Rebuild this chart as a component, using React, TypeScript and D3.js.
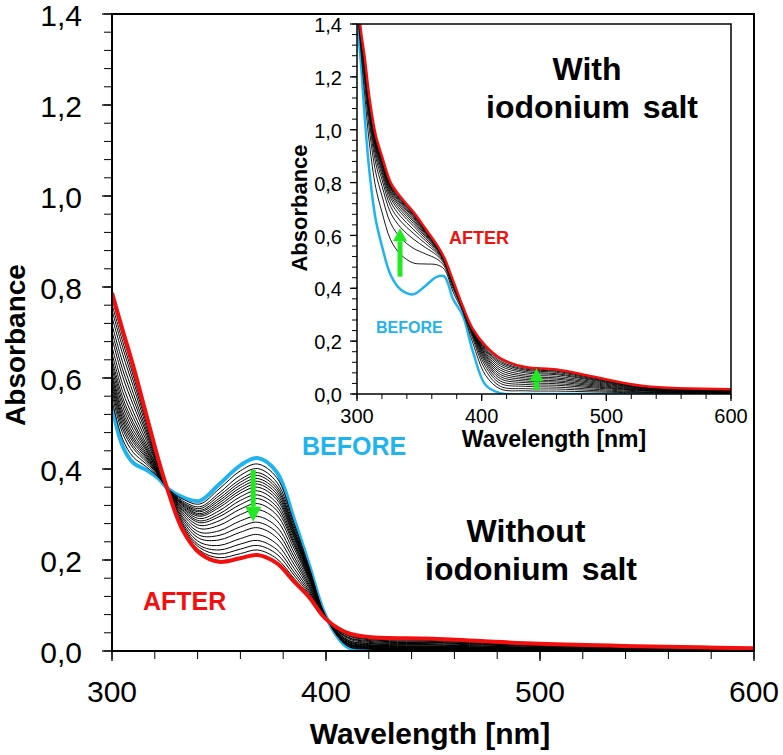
import React from 'react';
import * as d3 from 'd3';

// Main panel (without iodonium salt): wavelengths [nm] and absorbance curves
const mainWl = [300, 305, 310, 316, 322, 326, 333, 341, 350, 360, 368, 377, 385, 392, 400, 410, 420, 450, 500, 600];
const mainBefore = [0.536, 0.45, 0.413, 0.398, 0.378, 0.357, 0.338, 0.33, 0.366, 0.408, 0.424, 0.393, 0.29, 0.19, 0.075, 0.009, 0.002, 0, 0, 0];
const mainAfter = [0.787, 0.705, 0.625, 0.52, 0.415, 0.354, 0.266, 0.215, 0.196, 0.204, 0.211, 0.193, 0.153, 0.119, 0.07, 0.04, 0.031, 0.027, 0.016, 0.006];
const mainSteps = [
  [0.551, 0.465, 0.426, 0.405, 0.38, 0.357, 0.334, 0.323, 0.356, 0.396, 0.411, 0.381, 0.282, 0.186, 0.075, 0.011, 0.004, 0.002, 0.001, 0],
  [0.564, 0.478, 0.436, 0.411, 0.382, 0.357, 0.33, 0.317, 0.347, 0.386, 0.401, 0.371, 0.275, 0.182, 0.074, 0.012, 0.005, 0.003, 0.002, 0.001],
  [0.574, 0.488, 0.445, 0.416, 0.384, 0.357, 0.327, 0.313, 0.341, 0.377, 0.392, 0.363, 0.269, 0.179, 0.074, 0.014, 0.006, 0.004, 0.002, 0.001],
  [0.581, 0.496, 0.451, 0.42, 0.385, 0.356, 0.325, 0.309, 0.335, 0.371, 0.386, 0.357, 0.265, 0.177, 0.074, 0.015, 0.007, 0.005, 0.003, 0.001],
  [0.589, 0.504, 0.458, 0.424, 0.386, 0.356, 0.323, 0.306, 0.33, 0.365, 0.379, 0.351, 0.261, 0.175, 0.074, 0.016, 0.008, 0.006, 0.003, 0.001],
  [0.596, 0.511, 0.464, 0.427, 0.387, 0.356, 0.321, 0.302, 0.325, 0.359, 0.373, 0.345, 0.257, 0.173, 0.074, 0.016, 0.009, 0.006, 0.004, 0.001],
  [0.604, 0.519, 0.47, 0.431, 0.388, 0.356, 0.319, 0.299, 0.32, 0.353, 0.367, 0.339, 0.253, 0.171, 0.074, 0.017, 0.01, 0.007, 0.004, 0.002],
  [0.611, 0.527, 0.477, 0.435, 0.389, 0.356, 0.316, 0.296, 0.315, 0.347, 0.36, 0.333, 0.249, 0.169, 0.074, 0.018, 0.011, 0.008, 0.005, 0.002],
  [0.621, 0.537, 0.485, 0.44, 0.391, 0.356, 0.314, 0.291, 0.308, 0.339, 0.352, 0.325, 0.243, 0.166, 0.073, 0.02, 0.012, 0.009, 0.005, 0.002],
  [0.631, 0.547, 0.494, 0.444, 0.392, 0.356, 0.311, 0.286, 0.301, 0.331, 0.343, 0.317, 0.238, 0.163, 0.073, 0.021, 0.013, 0.01, 0.006, 0.002],
  [0.641, 0.557, 0.502, 0.449, 0.394, 0.356, 0.308, 0.282, 0.295, 0.322, 0.335, 0.309, 0.233, 0.16, 0.073, 0.022, 0.014, 0.011, 0.007, 0.003],
  [0.654, 0.57, 0.513, 0.455, 0.395, 0.356, 0.304, 0.276, 0.286, 0.312, 0.324, 0.299, 0.226, 0.157, 0.073, 0.024, 0.016, 0.013, 0.008, 0.003],
  [0.669, 0.585, 0.525, 0.463, 0.398, 0.355, 0.3, 0.269, 0.276, 0.3, 0.311, 0.287, 0.217, 0.152, 0.072, 0.025, 0.017, 0.014, 0.008, 0.003],
  [0.687, 0.603, 0.54, 0.471, 0.4, 0.355, 0.295, 0.261, 0.264, 0.286, 0.296, 0.273, 0.208, 0.147, 0.072, 0.028, 0.019, 0.016, 0.01, 0.004],
  [0.702, 0.618, 0.553, 0.479, 0.402, 0.355, 0.291, 0.254, 0.254, 0.273, 0.283, 0.261, 0.2, 0.143, 0.072, 0.03, 0.021, 0.018, 0.011, 0.004],
  [0.717, 0.634, 0.566, 0.486, 0.405, 0.355, 0.286, 0.247, 0.244, 0.261, 0.271, 0.249, 0.191, 0.139, 0.071, 0.031, 0.023, 0.019, 0.012, 0.004],
  [0.734, 0.652, 0.581, 0.494, 0.407, 0.355, 0.281, 0.239, 0.232, 0.247, 0.256, 0.235, 0.182, 0.134, 0.071, 0.034, 0.025, 0.021, 0.013, 0.005],
  [0.749, 0.667, 0.593, 0.502, 0.41, 0.354, 0.277, 0.232, 0.222, 0.235, 0.243, 0.223, 0.174, 0.13, 0.071, 0.035, 0.027, 0.023, 0.014, 0.005],
  [0.762, 0.68, 0.604, 0.508, 0.411, 0.354, 0.273, 0.227, 0.213, 0.224, 0.232, 0.213, 0.167, 0.126, 0.071, 0.037, 0.028, 0.024, 0.014, 0.005],
  [0.775, 0.692, 0.614, 0.514, 0.413, 0.354, 0.27, 0.221, 0.205, 0.214, 0.222, 0.203, 0.16, 0.123, 0.07, 0.039, 0.03, 0.026, 0.015, 0.006],
];

// Inset (with iodonium salt)
const insetWl = [300, 303, 306, 310, 315, 320, 327, 335, 345, 355, 364, 370, 377, 385, 393, 403, 415, 435, 460, 490, 530, 600];
const insetBefore = [1.4, 1.26, 1.06, 0.84, 0.66, 0.56, 0.45, 0.395, 0.377, 0.41, 0.443, 0.445, 0.36, 0.295, 0.16, 0.035, 0.003, 0, 0, 0, 0, 0];
const insetAfter = [1.55, 1.38, 1.28, 1.12, 0.98, 0.9, 0.8, 0.745, 0.69, 0.625, 0.565, 0.515, 0.43, 0.33, 0.245, 0.183, 0.135, 0.102, 0.093, 0.065, 0.03, 0.018];
const insetSteps = [
  [1.457, 1.306, 1.144, 0.946, 0.782, 0.689, 0.583, 0.528, 0.496, 0.492, 0.489, 0.472, 0.387, 0.308, 0.192, 0.072, 0.019, 0.012, 0.011, 0.008, 0.004, 0.002],
  [1.484, 1.327, 1.183, 0.997, 0.839, 0.75, 0.646, 0.591, 0.552, 0.53, 0.511, 0.484, 0.399, 0.315, 0.208, 0.091, 0.029, 0.02, 0.019, 0.013, 0.006, 0.004],
  [1.5, 1.34, 1.207, 1.028, 0.874, 0.788, 0.685, 0.63, 0.587, 0.554, 0.525, 0.492, 0.407, 0.318, 0.217, 0.105, 0.04, 0.029, 0.026, 0.018, 0.008, 0.005],
  [1.511, 1.349, 1.223, 1.047, 0.897, 0.812, 0.709, 0.654, 0.609, 0.569, 0.533, 0.497, 0.412, 0.321, 0.223, 0.116, 0.049, 0.036, 0.033, 0.023, 0.011, 0.006],
  [1.519, 1.355, 1.234, 1.061, 0.913, 0.829, 0.727, 0.672, 0.624, 0.58, 0.539, 0.5, 0.415, 0.323, 0.227, 0.125, 0.058, 0.043, 0.039, 0.027, 0.013, 0.008],
  [1.525, 1.36, 1.243, 1.072, 0.926, 0.842, 0.741, 0.686, 0.637, 0.588, 0.544, 0.503, 0.418, 0.324, 0.231, 0.132, 0.066, 0.049, 0.045, 0.031, 0.014, 0.009],
  [1.529, 1.363, 1.249, 1.081, 0.935, 0.852, 0.751, 0.696, 0.646, 0.595, 0.548, 0.505, 0.42, 0.325, 0.233, 0.139, 0.074, 0.055, 0.05, 0.035, 0.016, 0.01],
  [1.533, 1.366, 1.255, 1.088, 0.943, 0.861, 0.76, 0.705, 0.654, 0.6, 0.551, 0.507, 0.422, 0.326, 0.235, 0.145, 0.082, 0.061, 0.056, 0.039, 0.018, 0.011],
  [1.536, 1.369, 1.259, 1.093, 0.95, 0.868, 0.767, 0.712, 0.66, 0.605, 0.553, 0.508, 0.423, 0.327, 0.237, 0.15, 0.09, 0.067, 0.061, 0.043, 0.02, 0.012],
  [1.539, 1.371, 1.264, 1.099, 0.956, 0.875, 0.774, 0.719, 0.667, 0.609, 0.556, 0.51, 0.425, 0.327, 0.239, 0.156, 0.098, 0.073, 0.067, 0.047, 0.022, 0.013],
  [1.541, 1.373, 1.267, 1.103, 0.961, 0.88, 0.779, 0.724, 0.671, 0.612, 0.558, 0.511, 0.426, 0.328, 0.24, 0.162, 0.106, 0.08, 0.073, 0.051, 0.023, 0.014],
  [1.543, 1.375, 1.27, 1.107, 0.966, 0.885, 0.784, 0.729, 0.676, 0.615, 0.56, 0.512, 0.427, 0.328, 0.241, 0.167, 0.113, 0.085, 0.077, 0.054, 0.025, 0.015],
  [1.545, 1.376, 1.273, 1.111, 0.969, 0.889, 0.788, 0.733, 0.68, 0.618, 0.561, 0.513, 0.428, 0.329, 0.242, 0.171, 0.119, 0.09, 0.082, 0.057, 0.026, 0.016],
  [1.547, 1.377, 1.275, 1.114, 0.973, 0.893, 0.792, 0.737, 0.683, 0.62, 0.562, 0.513, 0.428, 0.329, 0.243, 0.176, 0.124, 0.094, 0.086, 0.06, 0.028, 0.017],
  [1.549, 1.379, 1.278, 1.117, 0.977, 0.897, 0.797, 0.742, 0.687, 0.623, 0.564, 0.514, 0.429, 0.33, 0.244, 0.179, 0.13, 0.098, 0.089, 0.062, 0.029, 0.017],
];

const xTicks = [300, 400, 500, 600];
const yTicks = [0, 0.2, 0.4, 0.6, 0.8, 1.0, 1.2, 1.4];

const BLUE = '#1fb4ee';
const RED = '#f40f0f';
const GREEN = '#22ea22';
const FONT = 'Liberation Sans, Arial, Helvetica, sans-serif';

const fmt = (v: number) => d3.format('.1f')(v).replace('.', ',');

type Arrow = { wl: number; from: number; to: number };

type PanelProps = {
  id: string;
  left: number; right: number; top: number; bottom: number;
  wl: number[]; before: number[]; after: number[]; steps: number[][];
  tick: number; minor: number; fontSize: number; yLabelGap: number; xLabelDy: number;
  thick: number; thin: number; axisW: number;
  arrows: Arrow[]; shaft: number; headW: number; headL: number;
};

function Panel(p: PanelProps) {
  const x = d3.scaleLinear().domain([300, 600]).range([p.left, p.right]);
  const y = d3.scaleLinear().domain([0, 1.4]).range([p.bottom, p.top]);
  const line = (vals: number[]) =>
    d3.line<number>()
      .x((_, i) => x(p.wl[i]))
      .y((v) => y(v))
      .curve(d3.curveCatmullRom.alpha(0.5))(vals) as string;
  const xMinor = d3.range(300, 601, 20);
  const yMinor = d3.range(0, 36).map((i) => +(i * 0.04).toFixed(2));

  return (
    <g>
      <defs>
        <clipPath id={p.id}>
          <rect x={p.left} y={p.top} width={p.right - p.left} height={p.bottom - p.top} />
        </clipPath>
      </defs>
      <g clipPath={`url(#${p.id})`} fill="none">
        <path d={line(p.before)} stroke={BLUE} strokeWidth={p.thick} />
        {p.steps.map((s, i) => (
          <path key={i} d={line(s)} stroke="#000" strokeWidth={p.thin} />
        ))}
        <path d={line(p.after)} stroke={RED} strokeWidth={p.thick} />
      </g>
      {p.arrows.map((a, i) => {
        const cx = x(a.wl);
        const y0 = y(a.from);
        const y1 = y(a.to);
        const dir = y1 < y0 ? 1 : -1;
        const base = y1 + dir * p.headL;
        return (
          <g key={i} fill={GREEN}>
            <rect x={cx - p.shaft / 2} y={Math.min(y0, base)} width={p.shaft} height={Math.abs(base - y0)} />
            <polygon points={`${cx - p.headW / 2},${base} ${cx + p.headW / 2},${base} ${cx},${y1}`} />
          </g>
        );
      })}
      <rect x={p.left} y={p.top} width={p.right - p.left} height={p.bottom - p.top}
        fill="none" stroke="#000" strokeWidth={p.axisW} />
      {yMinor.map((v) => (
        <line key={'ym' + v} x1={p.left - p.minor} x2={p.left} y1={y(v)} y2={y(v)} stroke="#000" strokeWidth={1} />
      ))}
      {xMinor.map((v) => (
        <line key={'xm' + v} x1={x(v)} x2={x(v)} y1={p.bottom} y2={p.bottom + p.minor} stroke="#000" strokeWidth={1} />
      ))}
      {yTicks.map((v) => (
        <g key={'y' + v}>
          <line x1={p.left - p.tick} x2={p.left} y1={y(v)} y2={y(v)} stroke="#000" strokeWidth={1.3} />
          <text x={p.left - p.yLabelGap} y={y(v) + p.fontSize * 0.41} textAnchor="end"
            fontSize={p.fontSize} fontFamily={FONT}>{fmt(v)}</text>
        </g>
      ))}
      {xTicks.map((v) => (
        <g key={'x' + v}>
          <line x1={x(v)} x2={x(v)} y1={p.bottom} y2={p.bottom + p.tick} stroke="#000" strokeWidth={1.3} />
          <text x={x(v)} y={p.bottom + p.xLabelDy} textAnchor="middle"
            fontSize={p.fontSize} fontFamily={FONT}>{v}</text>
        </g>
      ))}
    </g>
  );
}

export default function App() {
  const bold = { fontFamily: FONT, fontWeight: 700 } as const;
  return (
    <svg width={783} height={755} style={{ position: 'absolute', left: 0, top: 0, background: '#fff' }}>
      <Panel id="clipMain" left={112} right={754} top={14} bottom={651}
        wl={mainWl} before={mainBefore} after={mainAfter} steps={mainSteps}
        tick={10} minor={8} fontSize={30} yLabelGap={30} xLabelDy={51}
        thick={4} thin={1} axisW={2}
        arrows={[{ wl: 366, from: 0.398, to: 0.284 }]} shaft={5} headW={16} headL={15} />
      <Panel id="clipInset" left={357} right={731} top={24} bottom={394}
        wl={insetWl} before={insetBefore} after={insetAfter} steps={insetSteps}
        tick={7} minor={5} fontSize={20} yLabelGap={15} xLabelDy={29}
        thick={2.5} thin={0.9} axisW={1.5}
        arrows={[{ wl: 334.5, from: 0.444, to: 0.627 }, { wl: 444, from: 0.015, to: 0.097 }]}
        shaft={5} headW={14} headL={13} />

      {/* axis titles */}
      <text x={430} y={744} textAnchor="middle" fontSize={30} {...bold}>Wavelength [nm]</text>
      <text transform="translate(25,345) rotate(-90)" textAnchor="middle" fontSize={28} {...bold}>Absorbance</text>
      <text x={554} y={447} textAnchor="middle" fontSize={23} {...bold}>Wavelength [nm]</text>
      <text transform="translate(307,208) rotate(-90)" textAnchor="middle" fontSize={22} {...bold}>Absorbance</text>

      {/* annotations */}
      <text x={302} y={455} fontSize={25} fill={BLUE} {...bold}>BEFORE</text>
      <text x={143} y={610} fontSize={25} fill={RED} {...bold}>AFTER</text>
      <text x={526} y={542} textAnchor="middle" fontSize={32} {...bold}>Without</text>
      <text x={531} y={580} textAnchor="middle" fontSize={32} wordSpacing={4} {...bold}>iodonium salt</text>
      <text x={587} y={80} textAnchor="middle" fontSize={32} {...bold}>With</text>
      <text x={592} y={118} textAnchor="middle" fontSize={32} wordSpacing={4} {...bold}>iodonium salt</text>
      <text x={449} y={244} fontSize={18} fill={RED} {...bold}>AFTER</text>
      <text x={376} y={333} fontSize={16} fill={BLUE} {...bold}>BEFORE</text>
    </svg>
  );
}
